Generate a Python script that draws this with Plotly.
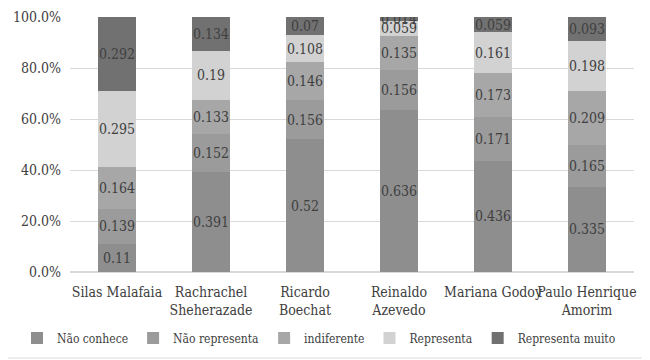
import plotly.graph_objects as go

categories = ["Silas Malafaia", "Rachrachel<br>Sheherazade", "Ricardo<br>Boechat",
              "Reinaldo<br>Azevedo", "Mariana Godoy", "Paulo Henrique<br>Amorim"]
series_names = ["Não conhece", "Não representa", "indiferente", "Representa", "Representa muito"]
nao_conhece = [0.11, 0.391, 0.52, 0.636, 0.436, 0.335]
nao_representa = [0.139, 0.152, 0.156, 0.156, 0.171, 0.165]
indiferente = [0.164, 0.133, 0.146, 0.135, 0.173, 0.209]
representa = [0.295, 0.19, 0.108, 0.059, 0.161, 0.198]
representa_muito = [0.292, 0.134, 0.07, 0.014, 0.059, 0.093]
series_values = [nao_conhece, nao_representa, indiferente, representa, representa_muito]
colors = ["#8e8e8e", "#9b9b9b", "#a7a7a7", "#d2d2d2", "#717171"]
y_ticks = [0, 0.2, 0.4, 0.6, 0.8, 1.0]

# page body has an 8px margin, so the figure is sized to end at the window edge
W, H = 642, 352
L, R, T, B = 62, 16, 9, 88
FONT = "DejaVu Serif Condensed"
TXT = "#404040"

fig = go.Figure()
for name, vals, col in zip(series_names, series_values, colors):
    fig.add_trace(go.Bar(
        name=name, x=categories, y=vals, marker=dict(color=col, line=dict(width=0)),
        text=[str(v) for v in vals], textposition="inside", insidetextanchor="middle",
        textangle=0, textfont=dict(family=FONT, size=14, color=TXT),
    ))

pw = W - L - R
ph = H - T - B
fig.update_layout(
    width=W, height=H, barmode="stack", bargap=0.595,
    margin=dict(l=L, r=R, t=T, b=B, autoexpand=False),
    paper_bgcolor="white", plot_bgcolor="white",
    font=dict(family=FONT, size=14, color=TXT),
    uniformtext=dict(minsize=14, mode="show"),
    showlegend=True,
    legend=dict(orientation="h", x=(9 - L) / pw, xanchor="left",
                y=(264 - 330) / ph, yanchor="middle",
                font=dict(family=FONT, size=12, color=TXT),
                itemwidth=30, tracegroupgap=0, traceorder="normal"),
    xaxis=dict(showgrid=False, showline=False, ticks="", tickangle=0,
               ticklabelstandoff=10,
               tickfont=dict(family=FONT, size=14, color=TXT)),
    yaxis=dict(range=[0, 1], tickvals=y_ticks, tickformat=".1%", showgrid=True,
               gridcolor="#d9d9d9", gridwidth=1, zeroline=True, zerolinecolor="#d9d9d9",
               showline=False, ticks="", ticklabelstandoff=8,
               tickfont=dict(family=FONT, size=14, color=TXT)),
    shapes=[
        dict(type="line", xref="paper", yref="paper",
             x0=1 + (637 - 626) / pw, x1=1 + (637 - 626) / pw,
             y0=-(350 - 264) / ph, y1=1 + T / ph,
             line=dict(color="#d9d9d9", width=1), layer="below"),
        dict(type="line", xref="paper", yref="paper",
             x0=-L / pw, x1=1 + (637 - 626) / pw,
             y0=-(350 - 264) / ph, y1=-(350 - 264) / ph,
             line=dict(color="#d9d9d9", width=1), layer="below"),
    ],
)
fig.write_html("out.html")
